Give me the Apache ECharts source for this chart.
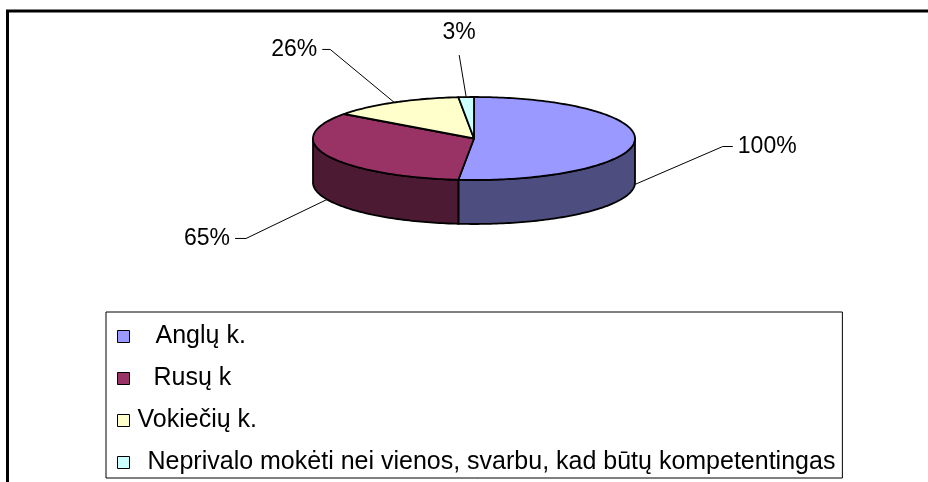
<!DOCTYPE html>
<html>
<head>
<meta charset="utf-8">
<script src="https://cdn.jsdelivr.net/npm/echarts@6/dist/echarts.min.js"></script>
<style>
  html, body { margin: 0; padding: 0; background: #fff; }
  #chart { width: 928px; height: 482px; }
</style>
</head>
<body>
<div id="chart"></div>
<script>
// data
const categories = ['Anglų k.', 'Rusų k', 'Vokiečių k.', 'Neprivalo mokėti nei vienos, svarbu, kad būtų kompetentingas'];
const values = [100, 65, 26, 3];
const topColors = ['#9999FF', '#993366', '#FFFFCC', '#CCFFFF'];
const sideColors = ['#4D4D80', '#4D1A33', '#80805F', '#668080'];

// layout of the fake 3d pie
const CX = 474, CY = 138.5, RX = 161, RY = 41.5, DEPTH = 44;
const FONT = '"Liberation Sans", Arial, sans-serif';
const labelLayout = [
    { dx: 88, dy: -38, tick: 10, align: 'left' },
    { dx: -81, dy: 39, tick: -11, align: 'right' },
    { dx: -64, dy: -53, tick: -8, align: 'right' },
    { dx: -7, dy: -42, tick: 0, align: 'center' }
];
const legendPad = [21, 19, 3, 13];

const total = values.reduce((a, b) => a + b, 0);
const cum = [0];
values.forEach((v, i) => cum.push(cum[i] + v));

function pt(a, dy) {
    return [CX + RX * Math.sin(a), CY - RY * Math.cos(a) + dy];
}

function arc(a0, a1, dy) {
    const pts = [];
    const n = Math.max(2, Math.ceil((a1 - a0) / 0.02));
    for (let k = 0; k <= n; k++) pts.push(pt(a0 + (a1 - a0) * k / n, dy));
    return pts;
}

function renderItem(params, api) {
    const i = params.dataIndex;
    const start = cum[i] / total * Math.PI * 2;
    const end = start + api.value(0) / total * Math.PI * 2;
    const children = [];

    // side wall, only the part facing us
    const lo = Math.max(start, Math.PI / 2), hi = Math.min(end, Math.PI * 1.5);
    if (lo < hi) {
        const side = arc(lo, hi, 0).concat(arc(lo, hi, DEPTH).reverse());
        children.push({
            type: 'polygon',
            shape: { points: side },
            style: { fill: sideColors[i], stroke: '#000', lineWidth: 1.8, lineJoin: 'round' }
        });
    }
    // top face
    children.push({
        type: 'polygon',
        shape: { points: [[CX, CY]].concat(arc(start, end, 0)) },
        style: { fill: topColors[i], stroke: '#000', lineWidth: 1.8, lineJoin: 'round' }
    });

    // label with leader line
    const mid = (start + end) / 2;
    const anchor = pt(mid, Math.cos(mid) < 0 ? DEPTH : 0);
    const L = labelLayout[i];
    const elbow = [anchor[0] + L.dx, anchor[1] + L.dy];
    const tickEnd = [elbow[0] + L.tick, elbow[1]];
    children.push({
        type: 'polyline',
        shape: { points: [anchor, elbow, tickEnd] },
        style: { stroke: '#000', lineWidth: 1, fill: null }
    });
    let tx = elbow[0], ty = elbow[1];
    if (L.align === 'left') tx = tickEnd[0] + 5;
    else if (L.align === 'right') tx = tickEnd[0] - 5;
    else ty = elbow[1] - 22;
    children.push({
        type: 'text',
        style: {
            text: api.value(0) + '%',
            x: tx, y: ty,
            align: L.align, verticalAlign: 'middle',
            fontSize: 23, fontFamily: FONT, fill: '#000'
        }
    });
    return { type: 'group', children: children };
}

const rich = {};
legendPad.forEach((p, i) => {
    rich['p' + i] = { padding: [0, 0, 0, p], fontSize: 25, lineHeight: 25, fontFamily: FONT, color: '#000' };
});

const chart = echarts.init(document.getElementById('chart'));
chart.setOption({
    animation: false,
    graphic: [{
        type: 'rect',
        shape: { x: 7.5, y: 11, width: 1000, height: 600 },
        style: { fill: null, stroke: '#000', lineWidth: 3 },
        z: 100
    }],
    legend: {
        orient: 'vertical',
        left: 106,
        top: 312,
        padding: [12, 7, 3, 11],
        itemGap: 17,
        itemWidth: 12,
        itemHeight: 12,
        icon: 'rect',
        borderColor: '#000',
        borderWidth: 1,
        itemStyle: { borderColor: '#000', borderWidth: 1 },
        textStyle: { fontSize: 25, lineHeight: 25, fontFamily: FONT, color: '#000', rich: rich },
        formatter: name => '{p' + categories.indexOf(name) + '|' + name + '}',
        data: categories
    },
    series: [
        {
            type: 'custom',
            name: 'pie3d',
            coordinateSystem: 'none',
            renderItem: renderItem,
            silent: true,
            data: values.map(v => [v])
        },
        {
            // hidden pie that only feeds the legend
            type: 'pie',
            center: [-200, -200],
            radius: [0, 1],
            silent: true,
            label: { show: false },
            labelLine: { show: false },
            data: categories.map((c, i) => ({ name: c, value: values[i], itemStyle: { color: topColors[i] } }))
        }
    ]
});
</script>
</body>
</html>
